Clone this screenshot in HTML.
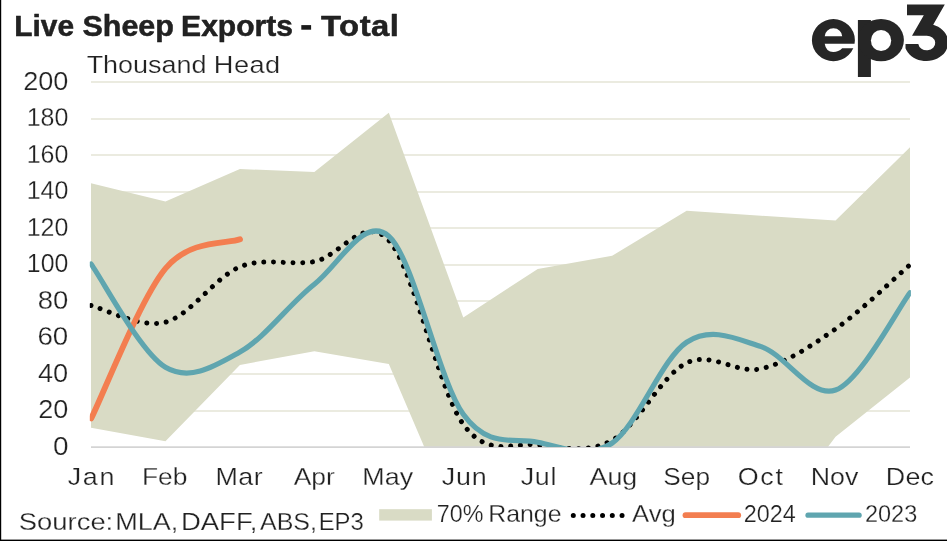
<!DOCTYPE html>
<html><head><meta charset="utf-8"><title>Live Sheep Exports - Total</title>
<style>
html,body{margin:0;padding:0;background:#fff;}
body{width:947px;height:541px;overflow:hidden;font-family:"Liberation Sans",sans-serif;}
svg{display:block;}
text{font-family:"Liberation Sans",sans-serif;fill:#222;}
</style></head><body>
<svg width="947" height="541" viewBox="0 0 947 541">
<rect x="0" y="0" width="947" height="541" fill="#fff"/>
<defs><clipPath id="plot"><rect x="91.0" y="70" width="819.0" height="377.6"/></clipPath><clipPath id="plot2"><rect x="89.8" y="70" width="821.1" height="376.9"/></clipPath></defs>
<g stroke="#ebebe0" stroke-width="2"><line x1="91.0" x2="910.0" y1="411.00" y2="411.00"/><line x1="91.0" x2="910.0" y1="374.00" y2="374.00"/><line x1="91.0" x2="910.0" y1="338.00" y2="338.00"/><line x1="91.0" x2="910.0" y1="301.00" y2="301.00"/><line x1="91.0" x2="910.0" y1="265.00" y2="265.00"/><line x1="91.0" x2="910.0" y1="228.00" y2="228.00"/><line x1="91.0" x2="910.0" y1="192.00" y2="192.00"/><line x1="91.0" x2="910.0" y1="155.00" y2="155.00"/><line x1="91.0" x2="910.0" y1="119.00" y2="119.00"/><line x1="91.0" x2="910.0" y1="82.00" y2="82.00"/></g>
<g clip-path="url(#plot)">
<path d="M91.00,183.29 L165.45,201.54 L239.91,169.05 L314.36,171.97 L388.82,112.84 L463.27,317.43 L537.73,269.06 L612.18,255.74 L686.64,210.84 L761.09,215.77 L835.55,220.52 L910.00,147.34 L910.00,377.47 L835.55,436.78 L761.09,535.51 L686.64,538.25 L612.18,538.25 L537.73,538.25 L463.27,538.25 L388.82,363.96 L314.36,351.37 L239.91,364.88 L165.45,441.16 L91.00,427.65 Z" fill="#d9dbc5"/>
</g>
<line x1="91.0" x2="910.0" y1="447.2" y2="447.2" stroke="#d4d4d4" stroke-width="1.8"/>
<g clip-path="url(#plot2)" fill="none" stroke-linecap="round" stroke-linejoin="round">
<path d="M91.00,305.56 C103.41,308.33 140.64,328.62 165.45,322.17 C190.27,315.72 215.09,276.97 239.91,266.87 C264.73,256.77 289.55,265.99 314.36,261.58 C339.18,257.17 364.00,213.28 388.82,240.41 C413.64,267.54 438.45,390.30 463.27,424.37 C488.09,458.44 512.91,442.16 537.73,444.81 C562.55,447.46 587.36,453.90 612.18,440.25 C637.00,426.59 661.82,374.79 686.64,362.87 C711.45,350.94 736.27,374.37 761.09,368.71 C785.91,363.05 810.73,346.26 835.55,328.92 C860.36,311.59 897.59,275.39 910.00,264.68" stroke="#000" stroke-width="5" stroke-dasharray="0.01 9.747"/>
<path d="M91.20,418.50 C103.58,393.50 140.65,298.37 165.45,268.50 C190.25,238.63 227.57,244.17 240.00,239.30" stroke="#f37e50" stroke-width="5.8"/>
<path d="M91.00,263.95 C103.41,281.17 140.64,352.56 165.45,367.25 C190.27,381.94 215.09,365.94 239.91,352.10 C264.73,338.26 289.55,303.52 314.36,284.21 C339.18,264.90 364.00,214.53 388.82,236.21 C413.64,257.90 438.45,379.99 463.27,414.33 C488.09,448.67 512.91,437.48 537.73,442.25 C562.55,447.03 587.36,459.65 612.18,442.99 C637.00,426.32 661.82,358.31 686.64,342.25 C711.45,326.19 736.27,338.66 761.09,346.62 C785.91,354.59 810.73,399.03 835.55,390.06 C860.36,381.09 897.59,309.00 910.00,292.79" stroke="#5fa5af" stroke-width="5.2"/>
</g>
<!-- text -->
<g opacity="0.999">
<text transform="translate(14.21,35.90) scale(1.0214,1)" font-size="29.3" font-weight="bold" stroke="#1a1a1a" stroke-width="0.50" stroke-linejoin="round" fill="#1a1a1a" style="letter-spacing:-0.000px">Live</text>
<text transform="translate(82.42,35.90) scale(1.0412,1)" font-size="29.3" font-weight="bold" stroke="#1a1a1a" stroke-width="0.50" stroke-linejoin="round" fill="#1a1a1a" style="letter-spacing:0.000px">Sheep</text>
<text transform="translate(181.10,35.90) scale(1.0263,1)" font-size="29.3" font-weight="bold" stroke="#1a1a1a" stroke-width="0.50" stroke-linejoin="round" fill="#1a1a1a" style="letter-spacing:0.000px">Exports</text>
<text transform="translate(321.00,35.90) scale(1.1200,1)" font-size="29.3" font-weight="bold" stroke="#1a1a1a" stroke-width="0.50" stroke-linejoin="round" fill="#1a1a1a" style="letter-spacing:0.442px">Total</text>
<text transform="translate(86.64,72.70) scale(1.1104,1)" font-size="24.3" stroke="#fff" stroke-width="0.25" fill="#222" style="letter-spacing:0.000px">Thousand</text>
<text transform="translate(213.76,72.70) scale(1.1200,1)" font-size="24.3" stroke="#fff" stroke-width="0.25" fill="#222" style="letter-spacing:0.435px">Head</text>
<text transform="translate(18.82,530.10) scale(1.1049,1)" font-size="24.8" stroke="#fff" stroke-width="0.25" fill="#222" style="letter-spacing:0.000px">Source:</text>
<text transform="translate(115.22,530.10) scale(1.0902,1)" font-size="24.8" stroke="#fff" stroke-width="0.25" fill="#222" style="letter-spacing:0.000px">MLA,</text>
<text transform="translate(180.88,530.10) scale(1.1104,1)" font-size="24.8" stroke="#fff" stroke-width="0.25" fill="#222" style="letter-spacing:0.000px">DAFF,</text>
<text transform="translate(260.00,530.10) scale(1.0083,1)" font-size="24.8" stroke="#fff" stroke-width="0.25" fill="#222" style="letter-spacing:0.000px">ABS,</text>
<text transform="translate(318.67,530.10) scale(0.9646,1)" font-size="24.8" stroke="#fff" stroke-width="0.25" fill="#222" style="letter-spacing:0.000px">EP3</text>
<text transform="translate(436.77,522.10) scale(0.9878,1)" font-size="23.6" stroke="#fff" stroke-width="0.25" fill="#222" style="letter-spacing:0.000px">70%</text>
<text transform="translate(488.19,522.10) scale(1.0556,1)" font-size="23.6" stroke="#fff" stroke-width="0.25" fill="#222" style="letter-spacing:0.000px">Range</text>
<text transform="translate(632.10,522.10) scale(1.0865,1)" font-size="23.6" stroke="#fff" stroke-width="0.25" fill="#222" style="letter-spacing:0.000px">Avg</text>
<text transform="translate(743.76,522.10) scale(0.9921,1)" font-size="23.6" stroke="#fff" stroke-width="0.25" fill="#222" style="letter-spacing:0.000px">2024</text>
<text transform="translate(864.95,522.10) scale(0.9970,1)" font-size="23.6" stroke="#fff" stroke-width="0.25" fill="#222" style="letter-spacing:0.000px">2023</text>
<text transform="translate(23.17,89.90) scale(1.0675,1)" font-size="25.4" stroke="#fff" stroke-width="0.25" fill="#222" style="letter-spacing:0.000px">200</text>
<text transform="translate(26.63,126.40) scale(0.9834,1)" font-size="25.4" stroke="#fff" stroke-width="0.25" fill="#222" style="letter-spacing:0.000px">180</text>
<text transform="translate(26.63,162.90) scale(0.9834,1)" font-size="25.4" stroke="#fff" stroke-width="0.25" fill="#222" style="letter-spacing:0.000px">160</text>
<text transform="translate(26.63,199.40) scale(0.9834,1)" font-size="25.4" stroke="#fff" stroke-width="0.25" fill="#222" style="letter-spacing:0.000px">140</text>
<text transform="translate(26.63,235.90) scale(0.9834,1)" font-size="25.4" stroke="#fff" stroke-width="0.25" fill="#222" style="letter-spacing:0.000px">120</text>
<text transform="translate(26.84,272.40) scale(0.9783,1)" font-size="25.4" stroke="#fff" stroke-width="0.25" fill="#222" style="letter-spacing:0.000px">100</text>
<text transform="translate(37.72,308.90) scale(1.0819,1)" font-size="25.4" stroke="#fff" stroke-width="0.25" fill="#222" style="letter-spacing:-0.000px">80</text>
<text transform="translate(37.43,345.40) scale(1.0923,1)" font-size="25.4" stroke="#fff" stroke-width="0.25" fill="#222" style="letter-spacing:0.000px">60</text>
<text transform="translate(37.96,381.90) scale(1.0729,1)" font-size="25.4" stroke="#fff" stroke-width="0.25" fill="#222" style="letter-spacing:-0.000px">40</text>
<text transform="translate(38.17,418.40) scale(1.0654,1)" font-size="25.4" stroke="#fff" stroke-width="0.25" fill="#222" style="letter-spacing:-0.000px">20</text>
<text transform="translate(52.90,454.90) scale(1.1000,1)" font-size="25.4" stroke="#fff" stroke-width="0.25" fill="#222" style="letter-spacing:0.000px">0</text>
<text transform="translate(67.64,484.80) scale(1.1200,1)" font-size="24" stroke="#fff" stroke-width="0.25" fill="#222" style="letter-spacing:1.536px">Jan</text>
<text transform="translate(142.00,484.80) scale(1.1007,1)" font-size="24" stroke="#fff" stroke-width="0.25" fill="#222" style="letter-spacing:0.000px">Feb</text>
<text transform="translate(215.46,484.80) scale(1.1200,1)" font-size="24" stroke="#fff" stroke-width="0.25" fill="#222" style="letter-spacing:0.411px">Mar</text>
<text transform="translate(293.70,484.80) scale(1.1027,1)" font-size="24" stroke="#fff" stroke-width="0.25" fill="#222" style="letter-spacing:0.000px">Apr</text>
<text transform="translate(362.36,484.80) scale(1.1191,1)" font-size="24" stroke="#fff" stroke-width="0.25" fill="#222" style="letter-spacing:0.000px">May</text>
<text transform="translate(441.64,484.80) scale(1.1200,1)" font-size="24" stroke="#fff" stroke-width="0.25" fill="#222" style="letter-spacing:0.821px">Jun</text>
<text transform="translate(520.74,484.80) scale(1.1200,1)" font-size="24" stroke="#fff" stroke-width="0.25" fill="#222" style="letter-spacing:0.616px">Jul</text>
<text transform="translate(589.50,484.80) scale(1.1176,1)" font-size="24" stroke="#fff" stroke-width="0.25" fill="#222" style="letter-spacing:0.000px">Aug</text>
<text transform="translate(663.33,484.80) scale(1.0938,1)" font-size="24" stroke="#fff" stroke-width="0.25" fill="#222" style="letter-spacing:0.000px">Sep</text>
<text transform="translate(737.80,484.80) scale(1.1200,1)" font-size="24" stroke="#fff" stroke-width="0.25" fill="#222" style="letter-spacing:1.464px">Oct</text>
<text transform="translate(810.77,484.80) scale(1.1160,1)" font-size="24" stroke="#fff" stroke-width="0.25" fill="#222" style="letter-spacing:0.000px">Nov</text>
<text transform="translate(885.76,484.80) scale(1.1200,1)" font-size="24" stroke="#fff" stroke-width="0.25" fill="#222" style="letter-spacing:0.223px">Dec</text>
</g>
<rect x="301.3" y="25.1" width="9.8" height="4.6" fill="#1a1a1a"/>
<!-- legend -->
<rect x="379.2" y="509.2" width="52.7" height="11.4" fill="#d9dbc5"/>

<g fill="none" stroke-linecap="round">
<line x1="573.3" x2="622.5" y1="515.6" y2="515.6" stroke="#000" stroke-width="5" stroke-dasharray="0.01 9.74"/>
<line x1="685.5" x2="738.2" y1="515.2" y2="515.2" stroke="#f37e50" stroke-width="5.8"/>
<line x1="808" x2="859.1" y1="515.2" y2="515.2" stroke="#5fa5af" stroke-width="5.2"/>
</g>
<!-- logo -->
<g fill="#262626">
<path fill-rule="evenodd" d="M811.9,40.15 A21.5,21.05 0 1 1 854.9,40.15 A21.5,21.05 0 1 1 811.9,40.15 Z M824.7,36.3 A8.75,8 0 0 1 842.2,36.3 Z"/>
<rect x="857.9" y="20" width="13" height="57"/>
<ellipse cx="881" cy="40.1" rx="22.9" ry="21.2"/>
<path d="M907,4.5 H944.8 L933.2,24.8 A21.9,18.6 0 1 1 905.5,48.3 V44 H918.3 A8.5,7.25 0 1 0 926.3,35.8 H912 L923.8,15.3 H907 Z"/>
</g>
<g fill="#fff">
<path d="M824.7,43.8 H856 V48.3 H842.2 Q838.5,52.1 833.3,52.1 Q826,52.1 824.7,43.8 Z"/>
<ellipse cx="881.05" cy="40.5" rx="10.15" ry="10.6"/>
</g>
<!-- borders -->
<rect x="0" y="0" width="1.2" height="541" fill="#000"/>
<rect x="0" y="539.6" width="947" height="1.4" fill="#000"/>
</svg>
</body></html>
